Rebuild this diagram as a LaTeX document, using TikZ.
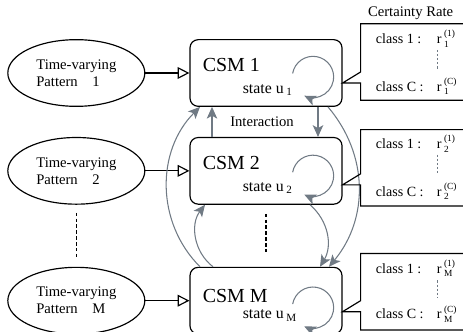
\documentclass[tikz,border=0pt]{standalone}
\usepackage{amsmath}
\usepackage{fontspec}
\setmainfont{Liberation Serif}
\usepackage{tikz}
\usetikzlibrary{positioning, shapes.geometric, arrows.meta, calc}
\definecolor{loopgray}{RGB}{112,122,132}
\newcommand{\rr}[2]{r\,$^{\text{(#1)}}_{\text{#2}}$}

\begin{document}
\begin{tikzpicture}[
  x=0.03cm, y=0.03cm,
  font=\fontsize{12.5}{14.5}\selectfont,
  srcell/.style={ellipse, draw, line width=1pt, minimum width=4.11cm,
                 minimum height=2.0cm, align=left},
  csmbox/.style={rectangle, draw, line width=1pt, rounded corners=7pt,
                 minimum width=4.56cm, minimum height=2.0cm},
  ratebox/.style={rectangle, minimum width=3.6cm, minimum height=2.28cm},
  csmlbl/.style={inner sep=1pt, font=\fontsize{17}{19}\selectfont},
  statelbl/.style={inner sep=1pt, font=\fontsize{13.5}{15}\selectfont},
  ratetxt/.style={inner sep=1pt, font=\fontsize{12}{14}\selectfont},
  inarr/.style={-{Triangle[open, length=10pt, width=10pt]}, line width=1pt},
  garr/.style={-{Stealth[length=10pt, width=9pt, inset=2.5pt]}, line width=0.9pt, color=loopgray},
  dotline/.style={dash pattern=on 3pt off 2pt, line width=1.3pt},
  vdots/.style={dash pattern=on 2pt off 1.5pt, line width=0.8pt, color=loopgray},
  callout/.style={line width=1pt},
]
  \useasboundingbox (0,0) rectangle (463,332);
  \clip (0,0) rectangle (463,332);

  % state machines
  \node[csmbox] (csm1) at (266,259) {};
  \node[csmbox, below=0.9cm of csm1] (csm2) {};
  \node[csmbox, below=1.86cm of csm2] (csmM) {};

  \node[csmlbl, anchor=west] (csm1t) at ($(csm1.west)+(12,8)$) {CSM 1};
  \node[csmlbl, anchor=west] (csm2t) at ($(csm2.west)+(12,8)$) {CSM 2};
  \node[csmlbl, anchor=west] (csmMt) at ($(csmM.west)+(12,5)$) {CSM M};
  \node[statelbl, anchor=west] (st1) at ($(csm1.west)+(52,-17)$) {state u\,\textsubscript{1}};
  \node[statelbl, anchor=west] (st2) at ($(csm2.west)+(52,-17)$) {state u\,\textsubscript{2}};
  \node[statelbl, anchor=west] (stM) at ($(csmM.west)+(52,-15)$) {state u\,\textsubscript{M}};

  % input patterns
  \node[srcell, left=1.32cm of csm1] (pat1) {Time-varying\\Pattern\quad 1};
  \node[srcell, left=1.32cm of csm2] (pat2) {Time-varying\\Pattern\quad 2};
  \node[srcell, left=1.32cm of csmM] (patM) {Time-varying\\Pattern\quad M};

  \draw[inarr] (pat1) -- (csm1);
  \draw[inarr] (pat2) -- (csm2);
  \draw[inarr] (patM) -- (csmM);
  \draw[dotline] ($(pat2.south)+(0,-8)$) -- ($(patM.north)+(0,10)$);
  \draw[dotline] ($(csm2.south)+(0,-9)$) -- ($(csmM.north)+(0,12)$);

  % self loops
  \foreach \n/\dy in {csm1/-4, csm2/-5, csmM/-7}
    \draw[garr] ($(\n.center)+(47,\dy)+(170:0.62cm)$) arc[start angle=170, end angle=-115, radius=0.62cm];

  % interaction
  \node (inter) at ($(csm1.south)!0.5!(csm2.north)+(-4,0)$) {Interaction};
  \draw[garr] ($(csm2.north)+(-54,0)$) -- ($(csm1.south)+(-54,0)$);
  \draw[garr] ($(csm1.south)+(52,0)$) -- ($(csm2.north)+(52,0)$);
  \draw[garr] ($(csmM.north)+(-53,0)$) to[bend left=45] ($(csm2.south)+(-61,0)$);
  \draw[garr] ($(csmM.north)+(-66,0)$) to[bend left=45] ($(csm1.south)+(-66,0)$);
  \draw[garr] ($(csm2.south)+(44,0)$) to[bend left=40] ($(csmM.north)+(54,0)$);
  \draw[garr] ($(csm1.south)+(62,0)$) to[bend left=40] ($(csmM.north)+(63,0)$);

  % certainty rates
  \node[ratebox, right=0.54cm of csm1, yshift=0.33cm] (rate1) {};
  \node[ratebox, right=0.54cm of csm2, yshift=0.09cm] (rate2) {};
  \node[ratebox, right=0.54cm of csmM, yshift=0.27cm] (rateM) {};
  \node (cert) at ($(rate1.north west)+(50,11)$) {Certainty Rate};

  \coordinate (tip1) at ($(csm1.east)+(0,-10)$);
  \coordinate (tip2) at ($(csm2.east)+(0,-14)$);
  \coordinate (tipM) at ($(csmM.east)+(0,-11)$);
  \foreach \r/\t in {rate1/tip1, rate2/tip2, rateM/tipM} {
    \coordinate (n-\t) at ($(\t)+(18,11)$);
    \draw[callout] (\r.north east) -- (\r.north west) -- (n-\t) -- (\t)
      -- (\t -| \r.west) -- (\r.south west) -- (\r.south east);
  }

  \node[ratetxt, anchor=base west] (c1a) at ($(rate1.north west)+(14,-20)$) {class 1 :};
  \node[ratetxt, anchor=base west] (r1a) at ($(rate1.north west)+(75,-20)$) {\rr{1}{1}};
  \node[ratetxt, anchor=base west] (c1c) at ($(rate1.south west)+(14,9)$) {class C :};
  \node[ratetxt, anchor=base west] (r1c) at ($(rate1.south west)+(75,9)$) {\rr{C}{1}};
  \node[ratetxt, anchor=base west] (c2a) at ($(rate2.north west)+(14,-19)$) {class 1 :};
  \node[ratetxt, anchor=base west] (r2a) at ($(rate2.north west)+(75,-19)$) {\rr{1}{2}};
  \node[ratetxt, anchor=base west] (c2c) at ($(rate2.south west)+(14,10)$) {class C :};
  \node[ratetxt, anchor=base west] (r2c) at ($(rate2.south west)+(75,10)$) {\rr{C}{2}};
  \node[ratetxt, anchor=base west] (cMa) at ($(rateM.north west)+(14,-20)$) {class 1 :};
  \node[ratetxt, anchor=base west] (rMa) at ($(rateM.north west)+(75,-20)$) {\rr{1}{M}};
  \node[ratetxt, anchor=base west] (cMc) at ($(rateM.south west)+(14,11)$) {class C :};
  \node[ratetxt, anchor=base west] (rMc) at ($(rateM.south west)+(75,11)$) {\rr{C}{M}};

  \draw[vdots] ($(rate1.north west)+(77,-26)$) -- ($(rate1.north west)+(77,-46)$);
  \draw[vdots] ($(rate2.north west)+(77,-25)$) -- ($(rate2.north west)+(77,-43)$);
  \draw[vdots] ($(rateM.north west)+(77,-27)$) -- ($(rateM.north west)+(77,-45)$);
\end{tikzpicture}
\end{document}
